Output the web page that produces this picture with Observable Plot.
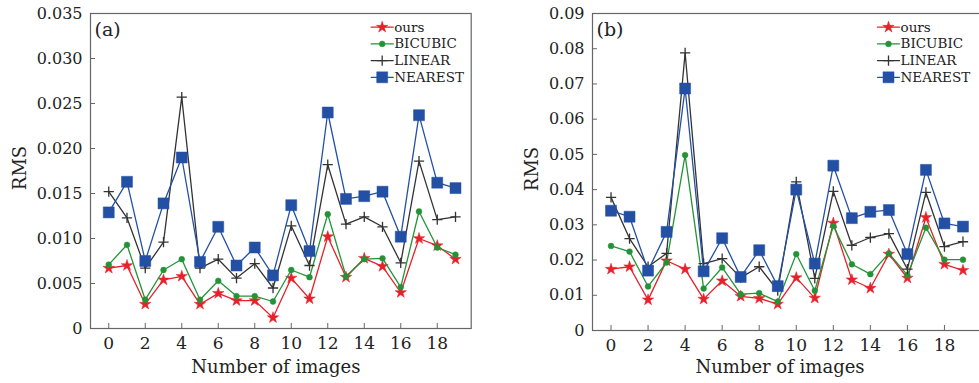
<!DOCTYPE html>
<html><head><meta charset="utf-8">
<script src="https://cdn.jsdelivr.net/npm/d3@7"></script>
<script src="https://cdn.jsdelivr.net/npm/@observablehq/plot@0.6"></script>
<style>
html,body{margin:0;padding:0;background:#fff;overflow:hidden;}
#wrap{position:relative;width:979px;height:383px;overflow:hidden;background:#fff;}
#wrap > svg{position:absolute;top:0;}
</style></head><body><div id="wrap"></div>
<script>
// ---- data ----
const images = [0,1,2,3,4,5,6,7,8,9,10,11,12,13,14,15,16,17,18,19];
const xTickValues = [0,2,4,6,8,10,12,14,16,18];
const seriesNames = ["ours","BICUBIC","LINEAR","NEAREST"];

const aOurs    = [0.0067,0.0070,0.0027,0.0054,0.0058,0.0027,0.0039,0.0031,0.0031,0.0012,0.0056,0.0033,0.0102,0.0057,0.0078,0.0069,0.0040,0.0100,0.0092,0.0077];
const aBicubic = [0.0071,0.0093,0.0032,0.0065,0.0077,0.0032,0.0053,0.0036,0.0036,0.0030,0.0065,0.0057,0.0127,0.0058,0.0077,0.0078,0.0046,0.0130,0.0090,0.0082];
const aLinear  = [0.0152,0.0123,0.0067,0.0096,0.0257,0.0067,0.0077,0.0056,0.0072,0.0045,0.0114,0.0070,0.0182,0.0116,0.0124,0.0113,0.0073,0.0186,0.0121,0.0124];
const aNearest = [0.0129,0.0163,0.0075,0.0139,0.0190,0.0074,0.0113,0.0070,0.0090,0.0059,0.0137,0.0086,0.0240,0.0144,0.0147,0.0152,0.0102,0.0237,0.0162,0.0156];
const aYTicks  = [0,0.005,0.010,0.015,0.020,0.025,0.030,0.035];

const bOurs    = [0.0174,0.0181,0.0087,0.0198,0.0174,0.0089,0.0141,0.0097,0.0091,0.0075,0.0150,0.0092,0.0305,0.0144,0.0120,0.0217,0.0149,0.0321,0.0188,0.0171];
const bBicubic = [0.0240,0.0224,0.0125,0.0193,0.0498,0.0119,0.0179,0.0103,0.0106,0.0082,0.0217,0.0113,0.0297,0.0188,0.0160,0.0219,0.0157,0.0292,0.0201,0.0201];
const bLinear  = [0.0378,0.0261,0.0181,0.0219,0.0788,0.0190,0.0204,0.0150,0.0181,0.0113,0.0422,0.0148,0.0395,0.0242,0.0264,0.0275,0.0174,0.0392,0.0238,0.0252];
const bNearest = [0.0340,0.0323,0.0170,0.0280,0.0687,0.0168,0.0262,0.0152,0.0228,0.0126,0.0400,0.0190,0.0468,0.0319,0.0337,0.0342,0.0217,0.0456,0.0304,0.0295];
const bYTicks  = [0,0.01,0.02,0.03,0.04,0.05,0.06,0.07,0.08,0.09];

// ---- styles ----
const styles = {
  ours:    {color:"#e8202a", symbol:"star",   r:3.6, filled:true},
  BICUBIC: {color:"#229437", symbol:"circle", r:2.9, filled:true},
  LINEAR:  {color:"#333333", symbol:"plus",   r:3.4, filled:false},
  NEAREST: {color:"#2350a5", symbol:"square", r:6.2, filled:true}
};
const lineShape = {draw(context, l){ context.moveTo(0,0); context.lineTo(0,-l); }};
const FONT = "DejaVu Serif";

function panel(cfg){
  const marks = [
    Plot.frame({stroke:"#666", strokeWidth:1.2}),
    Plot.axisX(xTickValues, {tickSize:-5, tickPadding:13, tickFormat:d=>String(d), label:null, fontSize:17, fill:"#222", stroke:"#666"}),
    Plot.axisY(cfg.yTicks, {tickSize:-5, tickPadding:13, tickFormat:cfg.yFmt, label:null, fontSize:16, fill:"#222", stroke:"#666"})
  ];
  seriesNames.forEach((name, k) => {
    const st = styles[name];
    const rows = images.map((x,i) => ({x, y: cfg.values[k][i]}));
    marks.push(Plot.line(rows, {x:"x", y:"y", stroke:st.color, strokeWidth:1.3}));
    marks.push(Plot.dot(rows, {x:"x", y:"y", symbol:st.symbol, r:st.r,
      fill: st.filled ? st.color : "none", stroke: st.color, strokeWidth: st.filled ? 0.5 : 1.3}));
  });
  // legend
  seriesNames.forEach((name, k) => {
    const st = styles[name];
    const dy = 13.7 + k*16.7;
    marks.push(Plot.vector([name], {frameAnchor:"top-right", dx:cfg.legX, dy, length:22, rotate:90, anchor:"start",
      shape: lineShape, stroke: st.color, strokeWidth:1.3}));
    marks.push(Plot.dot([name], {frameAnchor:"top-right", dx:cfg.legX+11, dy, symbol:st.symbol, r:st.r,
      fill: st.filled ? st.color : "none", stroke: st.color, strokeWidth: st.filled ? 0.5 : 1.3}));
    marks.push(Plot.text([name], {frameAnchor:"top-right", dx:cfg.legX+23, dy, text:d=>d, textAnchor:"start",
      lineAnchor:"middle", fontSize:13.5, fill:"#222"}));
  });
  marks.push(Plot.text([cfg.letter], {frameAnchor:"top-left", dx:4, dy:9, text:d=>d, textAnchor:"start", lineAnchor:"top", fontSize:19, fill:"#222"}));
  marks.push(Plot.text(["RMS"], {frameAnchor:"left", dx:cfg.rmsDx, dy:-3, rotate:-90, text:d=>d, textAnchor:"middle", lineAnchor:"middle", fontSize:18, fill:"#222"}));
  marks.push(Plot.text(["Number of images"], {frameAnchor:"bottom", dx:cfg.xlabDx, dy:cfg.xlabDy, text:d=>d, textAnchor:"middle", lineAnchor:"bottom", fontSize:18, fill:"#222"}));

  const svg = Plot.plot({
    width: cfg.width, height: 383,
    marginLeft: cfg.marginLeft, marginRight: cfg.marginRight, marginTop: 13, marginBottom: cfg.marginBottom,
    x: {domain: cfg.xDomain},
    y: {domain: [0, cfg.yMax]},
    style: {fontFamily: FONT, fontSize: "16px", background: "transparent", color: "#222"},
    marks
  });
  svg.style.left = cfg.left + "px";
  document.getElementById("wrap").appendChild(svg);
}

panel({left:0, width:490, marginLeft:90, marginRight:19.3, marginBottom:55, xDomain:[-1,19.86],
  yMax:0.035, yTicks:aYTicks, yFmt:d=> d===0 ? "0" : d3.format(".3f")(d),
  values:[aOurs,aBicubic,aLinear,aNearest], letter:"(a)", legX:-100, rmsDx:-70, xlabDx:-5, xlabDy:44});

panel({left:500, width:500, marginLeft:92, marginRight:19, marginBottom:53, xDomain:[-1,20],
  yMax:0.09, yTicks:bYTicks, yFmt:d=> d===0 ? "0" : d3.format(".2f")(d),
  values:[bOurs,bBicubic,bLinear,bNearest], letter:"(b)", legX:-104, rmsDx:-60, xlabDx:-7, xlabDy:42});
</script>
</body></html>
